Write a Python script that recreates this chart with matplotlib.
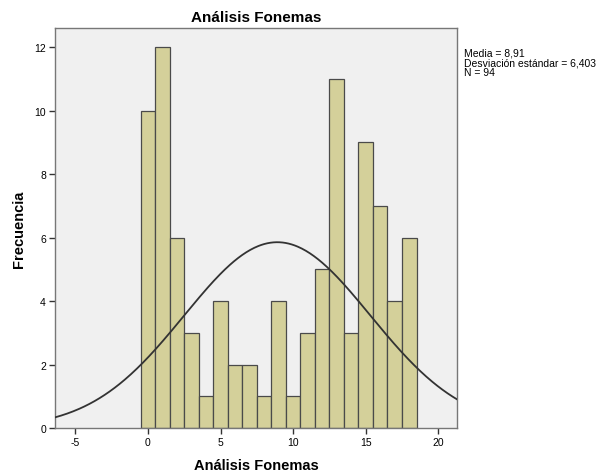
import matplotlib.pyplot as plt
import numpy as np

plt.rcParams["font.family"] = ["Liberation Sans", "DejaVu Sans"]
plt.rcParams["axes.unicode_minus"] = False

# frequency per score (bins of width 1 centred on the integers)
scores = [0, 1, 2, 3, 4, 5, 6, 7, 8, 9, 10, 11, 12, 13, 14, 15, 16, 17, 18]
counts = [10, 12, 6, 3, 1, 4, 2, 2, 1, 4, 1, 3, 5, 11, 3, 9, 7, 4, 6]
mean, sd, n = 8.91, 6.403, 94

fig = plt.figure(figsize=(6.02, 4.77), dpi=100)
ax = fig.add_axes([0.0914, 0.1006, 0.668, 0.838])
ax.set_facecolor("#f0f0f0")

ax.bar(scores, counts, width=1.0, color="#d4d09a", edgecolor="#4a4a4a", linewidth=0.9, zorder=2)

# fitted normal curve scaled to counts
xs = np.linspace(-6.4, 21.4, 400)
pdf = n * np.exp(-0.5 * ((xs - mean) / sd) ** 2) / (sd * np.sqrt(2 * np.pi))
ax.plot(xs, pdf, color="#333333", lw=1.3, zorder=3)

ax.set_xlim(-6.4, 21.3)
ax.set_ylim(0, 12.6)
ax.set_xticks([-5, 0, 5, 10, 15, 20])
ax.set_yticks([0, 2, 4, 6, 8, 10, 12])
ax.tick_params(labelsize=7.5, length=4, width=1, color="#333333", pad=2.5)
for s in ax.spines.values():
    s.set_color("#777777")
    s.set_linewidth(1.0)

ax.set_title("Análisis Fonemas", fontsize=11, fontweight="bold", pad=5)
ax.set_xlabel("Análisis Fonemas", fontsize=10.5, fontweight="bold", labelpad=8)
ax.set_ylabel("Frecuencia", fontsize=10.5, fontweight="bold", labelpad=6)

fig.text(0.771, 0.898,
         f"Media = {mean:.2f}".replace(".", ",") + "\n"
         + f"Desviación estándar = {sd:.3f}".replace(".", ",") + f"\nN = {n}",
         fontsize=7.5, va="top", ha="left", linespacing=0.98)

fig.savefig("out.png", dpi=100, facecolor="white")
